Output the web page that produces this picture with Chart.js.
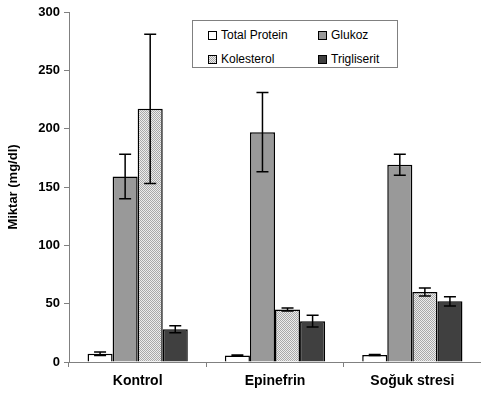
<!DOCTYPE html>
<html>
<head>
<meta charset="utf-8">
<script src="https://cdn.jsdelivr.net/npm/chart.js@4.4.0/dist/chart.umd.min.js"></script>
<style>
  body { margin: 0; background: #fff; }
  #wrap { position: relative; width: 481px; height: 398px; }
  #legend {
    position: absolute; left: 192px; top: 20px; width: 204px; height: 46px;
    border: 1px solid #808080; background: #fff;
    font-family: "Liberation Sans", Arial, sans-serif; font-size: 12px; color: #000;
  }
  .item { position: absolute; display: flex; align-items: center; white-space: nowrap; }
  .sw { width: 7px; height: 7px; border: 1px solid #000; margin-right: 4px; }
</style>
</head>
<body>
<div id="wrap">
  <canvas id="chart" width="481" height="398"></canvas>
  <div id="legend"></div>
</div>
<script>
// veriler
const categories = ["Kontrol", "Epinefrin", "Soğuk stresi"];
const seriesNames = ["Total Protein", "Glukoz", "Kolesterol", "Trigliserit"];
const totalProtein = [7, 5.5, 6];
const glukoz = [159, 197, 169];
const kolesterol = [217, 45, 60];
const trigliserit = [28, 35, 52];
const totalProteinErr = [1.5, 0.5, 0.5];
const glukozErr = [19, 34, 9];
const kolesterolErr = [64, 1.2, 3.5];
const trigliseritErr = [3, 5, 4];
const yTicks = [0, 50, 100, 150, 200, 250, 300];

// noktalı desen (Kolesterol)
function dotPattern() {
    const c = document.createElement("canvas");
    c.width = 2; c.height = 2;
    const g = c.getContext("2d");
    g.fillStyle = "#ececec"; g.fillRect(0, 0, 2, 2);
    g.fillStyle = "#a8a8a8"; g.fillRect(0, 0, 1, 1); g.fillRect(1, 1, 1, 1);
    return g.createPattern(c, "repeat");
}

const fills = ["#ffffff", "#999999", dotPattern(), "#404040"];
const swatchCss = ["#ffffff", "#999999",
    "repeating-conic-gradient(#a8a8a8 0 25%, #ececec 0 50%) 0 0 / 2px 2px", "#404040"];
const values = [totalProtein, glukoz, kolesterol, trigliserit];
const errors = [totalProteinErr, glukozErr, kolesterolErr, trigliseritErr];

// hata çubukları
const errorBars = {
    id: "errorBars",
    afterDatasetsDraw(chart) {
        const ctx = chart.ctx;
        const y = chart.scales.y;
        ctx.save();
        ctx.strokeStyle = "#000";
        ctx.lineWidth = 1.5;
        chart.data.datasets.forEach((ds, i) => {
            const meta = chart.getDatasetMeta(i);
            meta.data.forEach((bar, j) => {
                const v = ds.data[j], e = errors[i][j];
                const top = y.getPixelForValue(v + e);
                const bot = y.getPixelForValue(v - e);
                const x = bar.x, w = 6;
                ctx.beginPath();
                ctx.moveTo(x, top); ctx.lineTo(x, bot);
                ctx.moveTo(x - w, top); ctx.lineTo(x + w, top);
                ctx.moveTo(x - w, bot); ctx.lineTo(x + w, bot);
                ctx.stroke();
            });
        });
        ctx.restore();
    }
};

const font = { family: "'Liberation Sans', Arial, sans-serif", weight: "bold" };

new Chart(document.getElementById("chart"), {
    type: "bar",
    data: {
        labels: categories,
        datasets: seriesNames.map((name, i) => ({
            label: name,
            data: values[i],
            backgroundColor: fills[i],
            borderColor: "#000",
            borderWidth: 1.5,
            categoryPercentage: 0.73,
            barPercentage: 1.0
        }))
    },
    options: {
        responsive: false,
        animation: false,
        layout: { padding: { top: 12, right: 0, left: 0, bottom: 0 } },
        plugins: { legend: { display: false }, tooltip: { enabled: false } },
        scales: {
            x: {
                afterFit: s => { s.height = 36; },
                border: { color: "#808080", width: 1 },
                grid: { offset: true, drawOnChartArea: false, drawTicks: true, tickLength: 5, color: "#808080" },
                ticks: { color: "#000", font: { ...font, size: 14 }, padding: 6 }
            },
            y: {
                min: 0, max: 300,
                afterFit: s => { s.width = 69; },
                afterBuildTicks: s => { s.ticks = yTicks.map(v => ({ value: v })); },
                border: { color: "#808080", width: 1 },
                grid: { drawOnChartArea: false, tickLength: 5, color: "#808080" },
                ticks: { color: "#000", font: { ...font, size: 13 }, padding: 4 },
                title: { display: true, text: "Miktar (mg/dl)", color: "#000", font: { ...font, size: 13 }, padding: { top: 6, bottom: 0 } }
            }
        }
    },
    plugins: [errorBars]
});

// lejant
const legend = document.getElementById("legend");
const pos = [[15, 7], [125, 7], [15, 31], [125, 31]];
seriesNames.forEach((name, i) => {
    const d = document.createElement("div");
    d.className = "item";
    d.style.left = pos[i][0] + "px";
    d.style.top = pos[i][1] + "px";
    const sw = document.createElement("span");
    sw.className = "sw";
    sw.style.background = swatchCss[i];
    d.appendChild(sw);
    d.appendChild(document.createTextNode(name));
    legend.appendChild(d);
});
</script>
</body>
</html>
